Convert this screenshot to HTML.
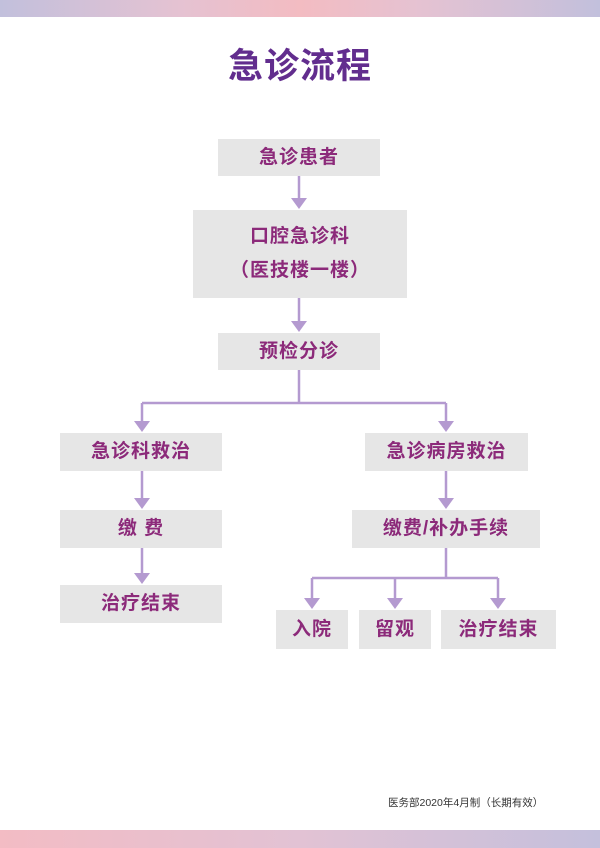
<!DOCTYPE html>
<html><head><meta charset="utf-8"><style>
body{margin:0;width:600px;height:848px;position:relative;background:#fff;font-family:"Liberation Sans","Noto Sans CJK SC",sans-serif;overflow:hidden}
.top{position:absolute;left:0;top:0;width:600px;height:17px;background:linear-gradient(90deg,#c2c0dc,#e5c2d2 30%,#f3bcc2 50%,#e5c2d2 70%,#c2c0dc)}
.bot{position:absolute;left:0;top:830px;width:600px;height:18px;background:linear-gradient(90deg,#f3bcc4,#e2c2d4 50%,#c4c0dc)}
.t{position:absolute;left:0;width:600px;top:38px;text-align:center;font-size:35px;font-weight:bold;color:#622d8e;letter-spacing:1px}
.b{position:absolute;background:#e6e6e6;color:#8c2a7a;font-weight:bold;font-size:19px;display:flex;align-items:center;justify-content:center;text-align:center;line-height:34px;letter-spacing:1px}
.f{position:absolute;left:388px;top:795px;font-size:10.5px;color:#333}
</style></head><body>
<div class="top"></div>
<div class="t">急诊流程</div>
<svg width="600" height="848" style="position:absolute;left:0;top:0">
<g stroke="#b49ad0" stroke-width="2.5" fill="none">
<line x1="299" y1="176" x2="299" y2="200"/>
<line x1="299" y1="298" x2="299" y2="323"/>
<line x1="299" y1="370" x2="299" y2="403"/>
<line x1="142" y1="403" x2="446" y2="403"/>
<line x1="142" y1="403" x2="142" y2="423"/>
<line x1="446" y1="403" x2="446" y2="423"/>
<line x1="142" y1="471" x2="142" y2="500"/>
<line x1="142" y1="548" x2="142" y2="575"/>
<line x1="446" y1="471" x2="446" y2="500"/>
<line x1="446" y1="548" x2="446" y2="578"/>
<line x1="312" y1="578" x2="498" y2="578"/>
<line x1="312" y1="578" x2="312" y2="600"/>
<line x1="395" y1="578" x2="395" y2="600"/>
<line x1="498" y1="578" x2="498" y2="600"/>
</g>
<g fill="#b49ad0">
<polygon points="291,198 307,198 299,209"/>
<polygon points="291,321 307,321 299,332"/>
<polygon points="134,421 150,421 142,432"/>
<polygon points="438,421 454,421 446,432"/>
<polygon points="134,498 150,498 142,509"/>
<polygon points="134,573 150,573 142,584"/>
<polygon points="438,498 454,498 446,509"/>
<polygon points="304,598 320,598 312,609"/>
<polygon points="387,598 403,598 395,609"/>
<polygon points="490,598 506,598 498,609"/>
</g>
</svg>
<div class="b" style="left:218px;top:139px;width:162px;height:37px">急诊患者</div>
<div class="b" style="left:193px;top:210px;width:214px;height:88px">口腔急诊科<br>（医技楼一楼）</div>
<div class="b" style="left:218px;top:333px;width:162px;height:37px">预检分诊</div>
<div class="b" style="left:60px;top:433px;width:162px;height:38px">急诊科救治</div>
<div class="b" style="left:365px;top:433px;width:163px;height:38px">急诊病房救治</div>
<div class="b" style="left:60px;top:510px;width:162px;height:38px">缴 费</div>
<div class="b" style="left:352px;top:510px;width:188px;height:38px">缴费/补办手续</div>
<div class="b" style="left:60px;top:585px;width:162px;height:38px">治疗结束</div>
<div class="b" style="left:276px;top:610px;width:72px;height:39px">入院</div>
<div class="b" style="left:359px;top:610px;width:72px;height:39px">留观</div>
<div class="b" style="left:441px;top:610px;width:115px;height:39px">治疗结束</div>
<div class="f">医务部2020年4月制（长期有效）</div>
<div class="bot"></div>
</body></html>
